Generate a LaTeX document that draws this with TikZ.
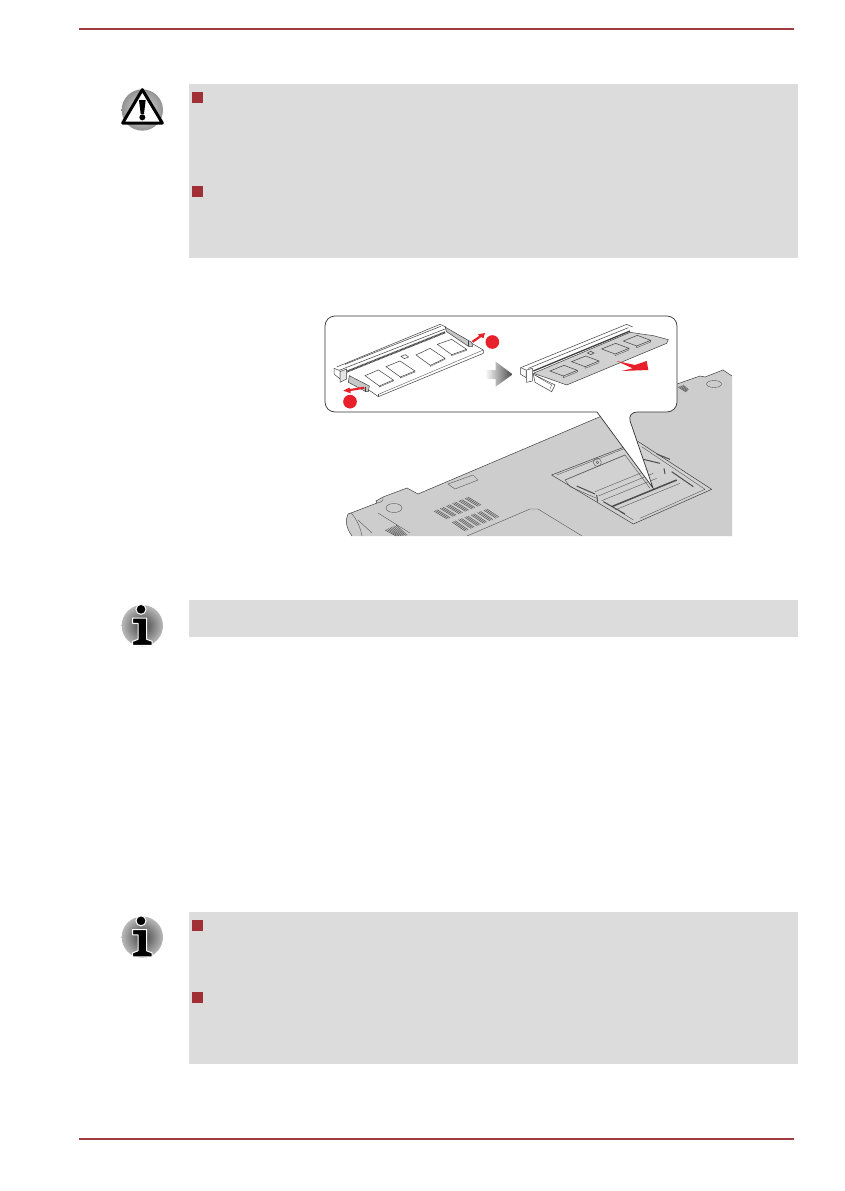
\documentclass[tikz,border=0pt]{standalone}
\usetikzlibrary{calc}
\definecolor{rulered}{RGB}{160,60,62}
\definecolor{bulletred}{RGB}{160,48,54}
\definecolor{boxgrey}{RGB}{220,220,220}
\definecolor{bodygrey}{RGB}{205,205,205}
\definecolor{arrowred}{RGB}{232,32,44}
\tikzset{
	pagerule/.style={rulered,line width=2pt},
	notebox/.style={fill=boxgrey},
	bulletmark/.style={fill=bulletred},
	thinline/.style={line width=.5pt,black!75},
	hairline/.style={line width=.35pt,black!70},
	darkslot/.style={line width=1.5pt,black!70},
	redarrow/.style={fill=arrowred},
	reddot/.style={fill=arrowred},
	ventline/.style={line width=.55pt,black!65},
}
\begin{document}
\begin{tikzpicture}[x=1pt,y=-1pt]
	    \useasboundingbox (0,0) rectangle (845,1191);
	    \fill[white] (0,0) rectangle (845,1191);
	    % page rules
	    \draw[pagerule] (79,29)--(794,29);
	    \draw[pagerule] (79,1139)--(794,1139);
	    % grey boxes and bullets
	    \fill[notebox] (189,84) rectangle (798,258);
	    \fill[notebox] (189,600) rectangle (798,637);
	    \fill[notebox] (189,912) rectangle (798,1064);
	    \fill[bulletmark] (192,92) rectangle (203,103);
	    \fill[bulletmark] (192,186) rectangle (203,197);
	    \fill[bulletmark] (192,920) rectangle (203,931);
	    \fill[bulletmark] (192,992) rectangle (203,1003);
	    % warning icon
	    \begin{scope}[shift={(100,70)},scale=1/3]
	        \shade[inner color=gray!25,outer color=gray!85] (127,120) circle (62);
	        \draw[black,line width=3pt,line join=round,fill=white] (127,59)--(68,159)--(187,159)--cycle;
	        \fill[black] (117,90)--(137,90)--(132,132)--(122,132)--cycle;
	        \fill[black] (127,142) circle (9);
	    \end{scope}
	    % info icons
	    \foreach \iconY in {590,901.5}{
	        \begin{scope}[shift={(100,\iconY)},scale=1/3]
	            \shade[inner color=black!75,outer color=gray!55] (127,107) circle (62);
	            \draw[white,line width=1pt,fill=black] (123,58) circle (15);
	            \draw[white,line width=1pt,fill=black,line join=round] (98,84)--(140,84)--(140,148)--(156,154)--(156,166)--(98,166)--(98,154)--(114,148)--(114,100)--(98,100)--cycle;
	        \end{scope}
	    }
	    % notebook underside
	    \fill[bodygrey] (348,514)--(351,513)--(377,503)--(376,501)--(383,497)--(407,488)--(418,494)--(677,384)--(700,376)--(705,377)--(723,370)--(732,376)--(732,536)--(352,536)..controls (346,528) and (345,520)..(348,514);
	    \draw[thinline] (352,536)..controls (346,528) and (345,520)..(348,514)--(351,513)--(377,503)--(376,501)--(383,497)--(407,488)--(418,494)--(677,384)--(700,376)--(705,377)--(723,370)--(732,376);
	    \draw[hairline] (351,513)..controls (356,518) and (360,526)..(362,536);
	    \draw[hairline] (358,520)--(372,533);
	    \draw[hairline] (378,513)--(410,533);
	    \draw[hairline] (377,503)..controls (381,503) and (384,500)..(383,497);
	    \draw[hairline] (394,508) ellipse (8 and 4.5);
	    \draw[hairline] (714,384) ellipse (7.5 and 3.5);
	    \draw[hairline] (448,484)--(473,475)--(478,480)--(455,489)--cycle;
	    \draw[hairline] (467,536)--(530,509)--(538,509)--(582,536);
	    % vents
	    \coordinate (ventA) at (434,511);
	    \coordinate (ventB) at (468,497);
	    \coordinate (ventC) at (447,519);
	    \coordinate (ventD) at (481,505);
	    \foreach \i in {0,1,2,4,5,6,8,9,10,12,13,14,16,17,18,20,21,22}{
	        \draw[ventline] ($(ventA)!\i/22!(ventB)$)--($(ventC)!\i/22!(ventD)$);
	    }
	    \coordinate (ventE) at (452,522);
	    \coordinate (ventF) at (487,509);
	    \coordinate (ventG) at (465,531);
	    \coordinate (ventH) at (499,517);
	    \foreach \i in {0,1,2,4,5,6,8,9,10,12,13,14,16,17,18,20,21,22}{
	        \draw[ventline] ($(ventE)!\i/22!(ventF)$)--($(ventG)!\i/22!(ventH)$);
	    }
	    \foreach \i in {0,...,7}{
	        \draw[ventline] (385+\i*1.6,530-\i*.7)--(396+\i*1.6,536-\i*.1);
	    }
	    \foreach \i in {0,...,4}{
	        \draw[ventline] (678+\i*1.3,387-\i*.5)--(686+\i*.6,392-\i*.6);
	    }
	    % memory bay
	    \begin{scope}[shift={(540,430)},scale=1/3]
	        \fill[bodygrey!92!white] (35,135)--(295,35)--(515,178)--(280,282)--cycle;
	        \draw[thinline] (35,135)--(295,35)--(515,178)--(280,282)--cycle;
	        \draw[hairline] (50,135)--(255,55);
	        \draw[hairline] (305,50)--(495,178)--(300,265);
	        \draw[hairline] (75,150)--(90,170)--(170,205);
	        \draw[line width=.7pt,black!65] (75,150)--(255,75);
	        \draw[hairline] (255,75)--(330,175);
	        \draw[hairline] (165,185)--(325,120);
	        \draw[hairline] (175,198)--(340,130);
	        \draw[hairline] (185,212)--(350,145);
	        \draw[darkslot] (215,230)--(410,150);
	        \draw[hairline] (225,240)--(420,160);
	        \draw[hairline] (240,245)--(280,270);
	        \draw[line width=1pt,black!70] (110,168)--(165,192);
	        \draw[line width=1pt,black!70] (170,195)--(173,215);
	        \draw[line width=1pt,black!70] (190,215)--(255,252);
	        \draw[line width=1pt,black!70] (310,88)--(360,100);
	        \draw[line width=1pt,black!70] (350,72)--(390,88);
	        \draw[line width=1pt,black!70] (372,115)--(375,132);
	        \draw[line width=1pt,black!70] (395,125)--(460,170);
	        \draw[hairline] (172,97) circle (12);
	        \draw[hairline] (172,97) circle (4);
	    \end{scope}
	    % callout
	    \draw[black!80,line width=.7pt,fill=white] (500,316)[rounded corners=10pt]--(677,316)--(677,412)--(627,412)[sharp corners]--(653,488)--(597,412)[rounded corners=10pt]--(325,412)--(325,316)--cycle;
	    % left module
	    \begin{scope}[shift={(320,305)},scale=1/3]
	        \draw[thinline,fill=white] (90,215)--(175,275)--(490,145)--(490,135)--(450,112);
	        \draw[hairline] (175,268)--(490,135);
	        \draw[hairline] (175,268)--(175,275);
	        \foreach \chipA/\chipB/\chipC/\chipD in {135/212/175/195,198/185/240/168,288/150/330/130,352/118/395/103}{
	            \draw[thinline] (\chipA,\chipB)--(\chipC,\chipD)--(\chipC+45,\chipD+30)--(\chipA+43,\chipB+31)--cycle;
	            \draw[hairline] (\chipA+43,\chipB+31)--(\chipA+43,\chipB+34)--(\chipC+45,\chipD+33)--(\chipC+45,\chipD+30);
	        }
	        \draw[thinline] (243,154)--(256,149)--(266,156)--(253,161)--cycle;
	        \draw[thinline] (50,186)--(360,58)--(378,66);
	        \draw[thinline] (75,178)--(362,64);
	        \draw[line width=2pt,black!75,dash pattern=on .9pt off .5pt] (80,200)--(375,82);
	        \draw[thinline] (60,195)--(375,72);
	        \draw[thinline,fill=white] (42,190)--(42,207)--(60,222)--(60,197)--cycle;
	        \draw[thinline,fill=black!10] (60,200)--(80,192)--(80,222)--(60,232)--cycle;
	        \draw[thinline,fill=black!22] (88,212)--(148,243)--(145,260)--(138,260)--(85,232)--cycle;
	        \draw[thinline,fill=black!22] (375,66)--(455,112)--(458,124)--(445,124)--(380,80)--cycle;
	        \draw[thinline] (135,245)--(135,260);
	        \draw[thinline] (445,108)--(445,124);
	        \fill[redarrow] (132,245)--(134,251)--(92,258)--(92,265)--(70,257)--(88,248)--(90,252)--cycle;
	        \fill[redarrow] (455,108)--(478,92)--(474,88)--(495,84)--(490,100)--(484,96)--(460,113)--cycle;
	        \fill[reddot] (517,111) circle (20.5);
	        \fill[reddot] (90,290) circle (20.5);
	    \end{scope}
	    % grey arrow
	    \begin{scope}[shift={(320,305)},scale=1/3]
	        \shade[left color=white,right color=black!72] (495,195)--(527,195)--(527,170)--(578,208)--(527,245)--(527,222)--(495,222)--cycle;
	    \end{scope}
	    % right module
	    \begin{scope}[shift={(320,305)},scale=1/3]
	        \draw[thinline] (602,188)--(920,58)--(938,66);
	        \draw[thinline] (625,190)--(925,68);
	        \draw[line width=1.3pt,black!75] (640,198)--(930,78);
	        \draw[thinline,fill=black!18] (640,205)--(930,82)--(1000,92)--(1045,104)--(1040,115)--(740,240)--(690,222)--cycle;
	        \foreach \chipA/\chipB in {690/198,755/170,845/132,910/108}{
	            \draw[thinline] (\chipA,\chipB)--(\chipA+42,\chipB-17)--(\chipA+82,\chipB-2)--(\chipA+40,\chipB+15)--cycle;
	            \draw[hairline] (\chipA+40,\chipB+15)--(\chipA+40,\chipB+20)--(\chipA+82,\chipB+3)--(\chipA+82,\chipB-2);
	        }
	        \draw[thinline] (802,144)--(812,139)--(822,144)--(812,149)--cycle;
	        \draw[thinline,fill=white] (602,188)--(602,208)--(618,218)--(618,195)--cycle;
	        \draw[thinline,fill=white] (620,195)--(637,190)--(637,228)--(620,232)--cycle;
	        \draw[thinline,fill=white] (640,208)--(705,240)--(695,260)--(645,232)--cycle;
	        \draw[hairline] (650,214)--(695,240)--(690,252);
	        \fill[redarrow] (890,168)--(945,180)--(980,168)--(985,195)--(905,198)--(938,190)--cycle;
	    \end{scope}
	\end{tikzpicture}
\end{document}
